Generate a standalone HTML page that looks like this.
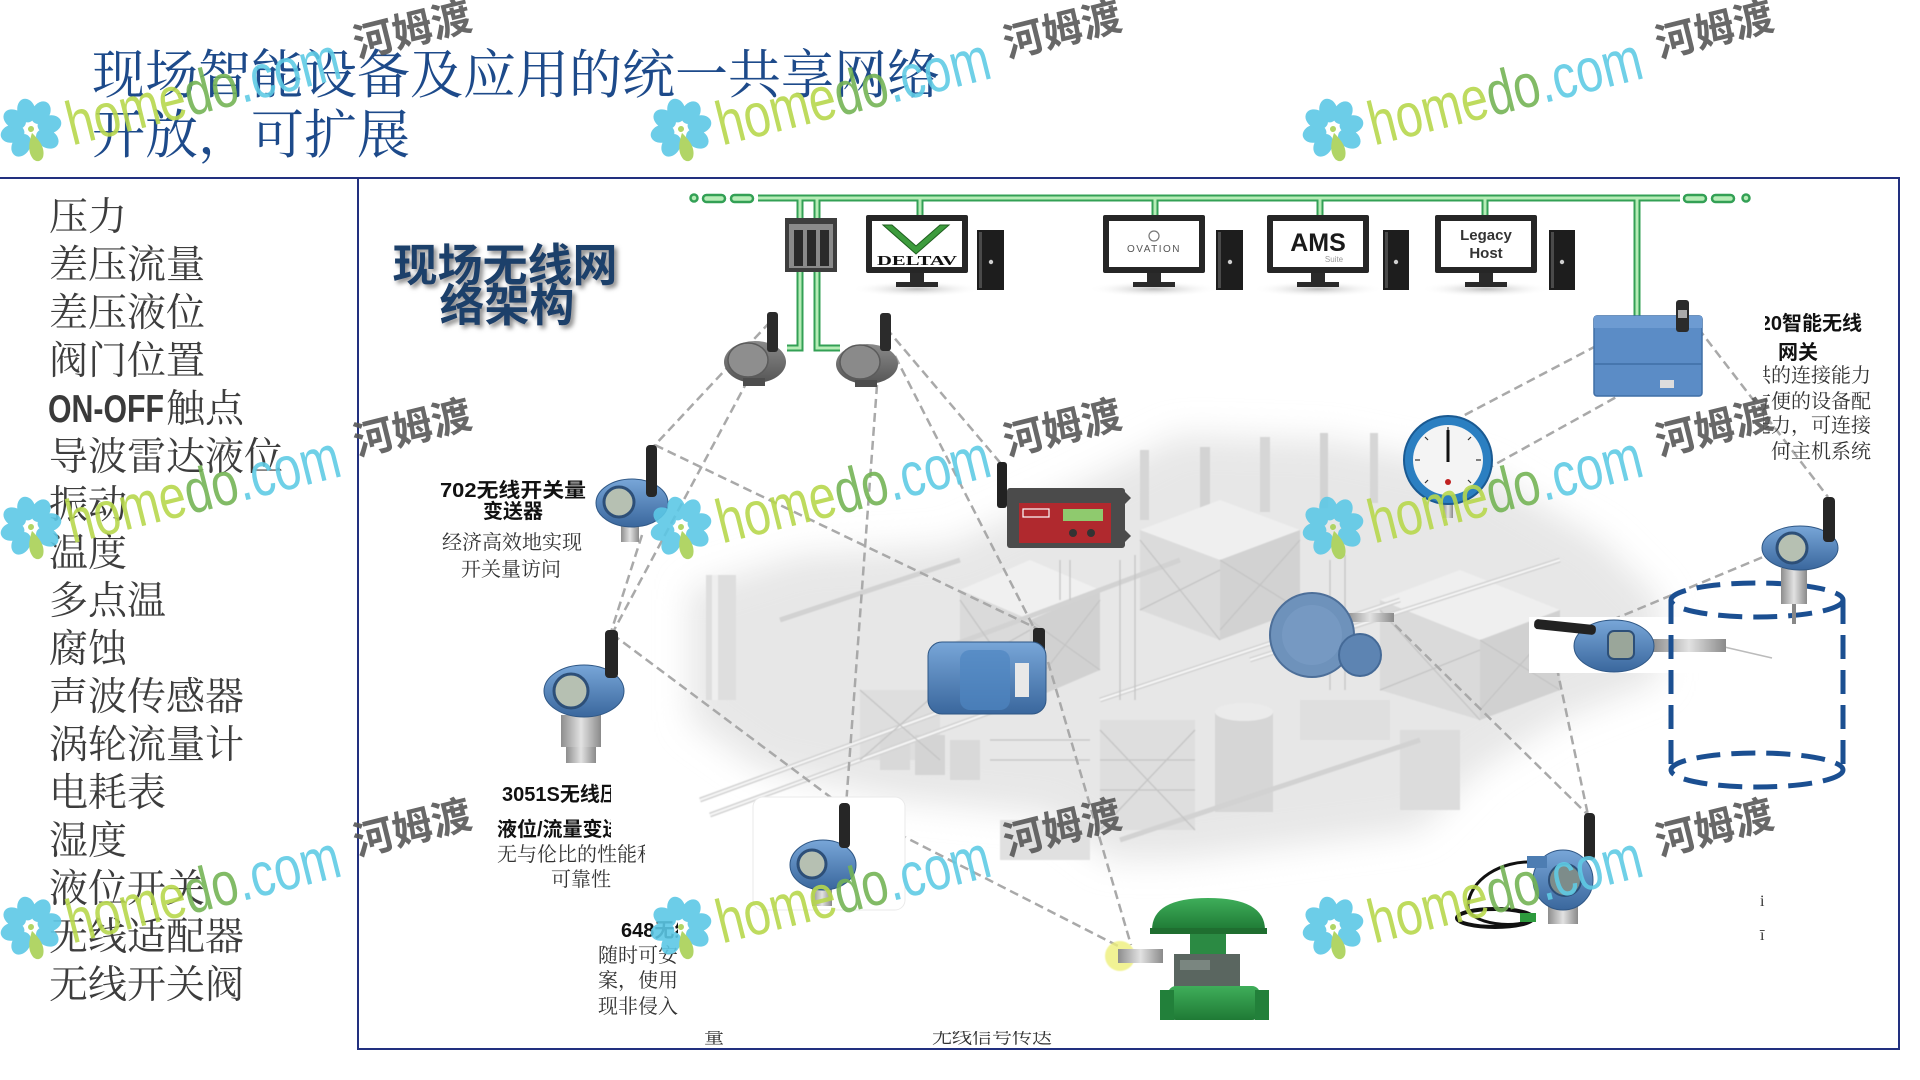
<!DOCTYPE html>
<html><head><meta charset="utf-8">
<style>
html,body{margin:0;padding:0;background:#fff;width:1920px;height:1080px;overflow:hidden}
svg{display:block}
</style></head>
<body>
<svg width="1920" height="1080" viewBox="0 0 1920 1080" xmlns="http://www.w3.org/2000/svg">
<defs>
  <filter id="bl12" x="-20%" y="-20%" width="140%" height="140%"><feGaussianBlur stdDeviation="16"/></filter>
  <filter id="bl1"><feGaussianBlur stdDeviation="0.6"/></filter>
  <filter id="tsh" x="-10%" y="-10%" width="130%" height="140%">
    <feDropShadow dx="3" dy="3" stdDeviation="2.5" flood-color="#7a7a7a" flood-opacity="0.9"/>
  </filter>
  <linearGradient id="bg" x1="0" y1="0" x2="0" y2="1">
    <stop offset="0" stop-color="#78a6d8"/><stop offset="1" stop-color="#3a679d"/>
  </linearGradient>
  <linearGradient id="gg" x1="0" y1="0" x2="0" y2="1">
    <stop offset="0" stop-color="#8a8a8a"/><stop offset="1" stop-color="#555"/>
  </linearGradient>
  <linearGradient id="sv" x1="0" y1="0" x2="1" y2="0">
    <stop offset="0" stop-color="#8d8d8d"/><stop offset="0.5" stop-color="#e2e2e2"/><stop offset="1" stop-color="#8a8a8a"/>
  </linearGradient>
  <linearGradient id="grn" x1="0" y1="0" x2="0" y2="1">
    <stop offset="0" stop-color="#3fae5a"/><stop offset="1" stop-color="#1f7a35"/>
  </linearGradient>
  <radialGradient id="shd" cx="0.5" cy="0.5" r="0.5">
    <stop offset="0" stop-color="#bdbdbd"/><stop offset="1" stop-color="#ffffff" stop-opacity="0"/>
  </radialGradient>
  <g id="fl">
    <ellipse cx="0" cy="-19" rx="9" ry="12" fill="#5cc8e6"/>
    <ellipse cx="0" cy="-19" rx="9" ry="12" fill="#5cc8e6" transform="rotate(45)"/>
    <ellipse cx="0" cy="-19" rx="9" ry="12" fill="#5cc8e6" transform="rotate(90)"/>
    <ellipse cx="0" cy="-19" rx="9" ry="12" fill="#5cc8e6" transform="rotate(135)"/>
    <ellipse cx="0" cy="-19" rx="9" ry="12" fill="#5cc8e6" transform="rotate(225)"/>
    <ellipse cx="0" cy="-19" rx="9" ry="12" fill="#5cc8e6" transform="rotate(270)"/>
    <ellipse cx="0" cy="-19" rx="9" ry="12" fill="#5cc8e6" transform="rotate(315)"/>
    <path d="M0,4 C6,14 9,22 5,30 C2,34 -2,34 -5,30 C-9,22 -6,14 0,4 Z" fill="#a9d155"/>
    <circle cx="0" cy="0" r="3" fill="#a9d155"/>
  </g>
  <clipPath id="c3051a"><rect x="480" y="770" width="131" height="72"/></clipPath>
  <clipPath id="c3051b"><rect x="480" y="842" width="165" height="25"/></clipPath>
  <clipPath id="c648"><rect x="585" y="912" width="93" height="110"/></clipPath>
  <clipPath id="cgw"><rect x="1765" y="295" width="140" height="45"/></clipPath>
  <clipPath id="cgw2"><rect x="1763" y="360" width="140" height="110"/></clipPath>
  <clipPath id="cbot"><rect x="680" y="1031" width="420" height="16"/></clipPath>
</defs>

<!-- ============ Title ============ -->
<g font-family="'Liberation Serif','Noto Serif CJK SC',serif" fill="#1d4a8a">
  <text x="92" y="93" font-size="53">现场智能设备及应用的统一共享网络</text>
  <text x="92" y="153" font-size="53">开放，可扩展</text>
</g>

<!-- ============ Frame lines ============ -->
<g stroke="#22307f" stroke-width="2" fill="none">
  <line x1="0" y1="178" x2="1900" y2="178"/>
  <line x1="358" y1="178" x2="358" y2="1050"/>
  <line x1="357" y1="1049" x2="1900" y2="1049"/>
  <line x1="1899" y1="177" x2="1899" y2="1050"/>
</g>

<!-- ============ Left list ============ -->
<g font-family="'Liberation Serif','Noto Serif CJK SC',serif" font-size="39" fill="#3d3d3d">
  <text x="49" y="230">压力</text>
  <text x="49" y="278">差压流量</text>
  <text x="49" y="326">差压液位</text>
  <text x="49" y="374">阀门位置</text>
  <text x="166" y="422">触点</text>
  <text x="49" y="470">导波雷达液位</text>
  <text x="49" y="518">振动</text>
  <text x="49" y="566">温度</text>
  <text x="49" y="614">多点温</text>
  <text x="49" y="662">腐蚀</text>
  <text x="49" y="710">声波传感器</text>
  <text x="49" y="758">涡轮流量计</text>
  <text x="49" y="806">电耗表</text>
  <text x="49" y="854">湿度</text>
  <text x="49" y="902">液位开关</text>
  <text x="49" y="950">无线适配器</text>
  <text x="49" y="998">无线开关阀</text>
</g>
<text x="48" y="422" font-family="'Liberation Sans',sans-serif" font-weight="bold" font-size="39" fill="#3a3a3a" textLength="116" lengthAdjust="spacingAndGlyphs">ON-OFF</text>

<!-- ============ Factory background ============ -->
<g>
  <path d="M690,590 L800,555 L950,545 L1080,485 L1180,435 L1330,440 L1480,470 L1600,540 L1660,600 L1660,680 L1560,720 L1480,770 L1420,830 L1300,845 L1180,860 L1110,860 L1050,815 L900,800 L760,770 L690,720 Z" fill="#e7e7e7" filter="url(#bl12)"/>
  <g filter="url(#bl1)">
    <!-- chimneys -->
    <rect x="1140" y="450" width="9" height="70" fill="#d6d6d6"/>
    <rect x="1200" y="447" width="10" height="70" fill="#d3d3d3"/>
    <rect x="1260" y="437" width="10" height="75" fill="#d6d6d6"/>
    <rect x="1320" y="433" width="8" height="75" fill="#d3d3d3"/>
    <rect x="1370" y="433" width="8" height="70" fill="#d6d6d6"/>
    <rect x="706" y="575" width="30" height="125" fill="#dedede"/>
    <rect x="712" y="575" width="6" height="125" fill="#efefef"/>
    <!-- blocks -->
    <polygon points="960,590 1030,560 1100,590 1030,620" fill="#f0f0f0"/>
    <polygon points="960,590 1030,620 1030,700 960,670" fill="#dadada"/>
    <polygon points="1030,620 1100,590 1100,670 1030,700" fill="#d1d1d1"/>
    <polygon points="1140,530 1220,500 1300,530 1220,560" fill="#efefef"/>
    <polygon points="1140,530 1220,560 1220,640 1140,610" fill="#dbdbdb"/>
    <polygon points="1220,560 1300,530 1300,610 1220,640" fill="#d2d2d2"/>
    <polygon points="1380,600 1460,570 1560,610 1480,640" fill="#efefef"/>
    <polygon points="1380,600 1480,640 1480,720 1380,690" fill="#dadada"/>
    <polygon points="1480,640 1560,610 1560,690 1480,720" fill="#d1d1d1"/>
    <rect x="1100" y="720" width="95" height="110" fill="#dedede"/>
    <rect x="1215" y="712" width="58" height="100" fill="#d6d6d6"/>
    <ellipse cx="1244" cy="712" rx="29" ry="9" fill="#ebebeb"/>
    <rect x="860" y="690" width="80" height="70" fill="#dedede"/>
    <rect x="1000" y="820" width="90" height="40" fill="#e0e0e0"/>
    <rect x="1400" y="730" width="60" height="80" fill="#dcdcdc"/>
    <rect x="1300" y="700" width="90" height="40" fill="#dfdfdf"/>
    <!-- tanks -->
    <rect x="880" y="730" width="30" height="40" fill="#d9d9d9"/>
    <rect x="915" y="735" width="30" height="40" fill="#d4d4d4"/>
    <rect x="950" y="740" width="30" height="40" fill="#d9d9d9"/>
    <!-- pipes -->
    <g stroke="#d2d2d2" stroke-width="5" fill="none">
      <line x1="700" y1="800" x2="1000" y2="690"/>
      <line x1="710" y1="815" x2="1010" y2="705"/>
      <line x1="940" y1="650" x2="1180" y2="560"/>
      <line x1="1100" y1="700" x2="1400" y2="600"/>
      <line x1="1120" y1="840" x2="1420" y2="740"/>
      <line x1="780" y1="620" x2="960" y2="560"/>
      <line x1="1250" y1="660" x2="1560" y2="560"/>
    </g>
    <g stroke="#f6f6f6" stroke-width="2" fill="none">
      <line x1="700" y1="800" x2="1000" y2="690"/>
      <line x1="710" y1="815" x2="1010" y2="705"/>
      <line x1="1100" y1="700" x2="1400" y2="600"/>
      <line x1="1250" y1="660" x2="1560" y2="560"/>
    </g>
    <!-- lattices -->
    <g stroke="#c4c4c4" stroke-width="1.3" fill="none">
      <path d="M1100,730 L1195,830 M1195,730 L1100,830 M1100,760 L1195,760 M1100,790 L1195,790"/>
      <path d="M960,600 L1030,700 M1030,630 L960,670 M1030,620 L1100,670 M1100,600 L1030,690"/>
      <path d="M1380,610 L1480,720 M1480,650 L1380,690 M1480,640 L1560,690 M1560,620 L1480,710"/>
      <path d="M1140,540 L1220,640 M1220,570 L1140,610 M1220,560 L1300,610 M1300,540 L1220,630"/>
      <path d="M860,690 L940,760 M940,690 L860,760"/>
      <path d="M1120,560 L1120,700 M1135,555 L1135,700 M1330,560 L1330,690 M1345,555 L1345,690"/>
      <path d="M1060,560 L1060,600 M1070,560 L1070,600 M990,740 L1090,740 M990,760 L1090,760"/>
    </g>
  </g>
</g>

<!-- ============ Green network bus ============ -->
<g fill="none" stroke-linecap="butt">
  <g stroke="#33a055" stroke-width="7">
    <line x1="758" y1="198" x2="1680" y2="198"/>
    <polyline points="800,198 800,348 787,348"/>
    <polyline points="817,198 817,348 840,348"/>
    <line x1="920" y1="198" x2="920" y2="216"/>
    <line x1="1155" y1="198" x2="1155" y2="216"/>
    <line x1="1320" y1="198" x2="1320" y2="216"/>
    <line x1="1485" y1="198" x2="1485" y2="216"/>
    <line x1="1637" y1="198" x2="1637" y2="316"/>
  </g>
  <g stroke="#b6ecb6" stroke-width="3">
    <line x1="758" y1="198" x2="1680" y2="198"/>
    <polyline points="800,198 800,348 787,348"/>
    <polyline points="817,198 817,348 840,348"/>
    <line x1="920" y1="198" x2="920" y2="216"/>
    <line x1="1155" y1="198" x2="1155" y2="216"/>
    <line x1="1320" y1="198" x2="1320" y2="216"/>
    <line x1="1485" y1="198" x2="1485" y2="216"/>
    <line x1="1637" y1="198" x2="1637" y2="316"/>
  </g>
  <g stroke="#33a055" stroke-width="2.5" fill="#b6ecb6">
    <circle cx="694" cy="198" r="3.5"/>
    <rect x="703" y="195" width="22" height="7" rx="3.5"/>
    <rect x="731" y="195" width="22" height="7" rx="3.5"/>
    <rect x="1684" y="195" width="22" height="7" rx="3.5"/>
    <rect x="1712" y="195" width="22" height="7" rx="3.5"/>
    <circle cx="1746" cy="198" r="3.5"/>
  </g>
</g>

<!-- ============ Monitors ============ -->
<g>
  <ellipse cx="917" cy="289" rx="66" ry="8" fill="url(#shd)"/>
  <ellipse cx="1154" cy="289" rx="66" ry="8" fill="url(#shd)"/>
  <ellipse cx="1318" cy="289" rx="66" ry="8" fill="url(#shd)"/>
  <ellipse cx="1486" cy="289" rx="66" ry="8" fill="url(#shd)"/>
  <!-- DeltaV -->
  <rect x="866" y="215" width="102" height="58" rx="2" fill="#262626"/>
  <rect x="872" y="221" width="90" height="46" fill="#fff"/>
  <rect x="910" y="273" width="14" height="10" fill="#2a2a2a"/>
  <rect x="896" y="282" width="42" height="5" fill="#2a2a2a"/>
  <polygon points="883,225 892,225 916,246 940,225 949,225 916,254" fill="#3d9c3d" stroke="#1e5e1e" stroke-width="1"/>
  <text x="877" y="265" font-family="'Liberation Serif',serif" font-weight="bold" font-size="14" fill="#111" textLength="80" lengthAdjust="spacingAndGlyphs">DELTAV</text>
  <rect x="977" y="230" width="27" height="60" fill="#1d1d1d"/>
  <rect x="979" y="232" width="3" height="56" fill="#4a4a4a"/>
  <circle cx="991" cy="262" r="2.2" fill="#cfcfcf"/>
  <!-- Ovation -->
  <rect x="1103" y="215" width="102" height="58" rx="2" fill="#262626"/>
  <rect x="1109" y="221" width="90" height="46" fill="#fff"/>
  <rect x="1147" y="273" width="14" height="10" fill="#2a2a2a"/>
  <rect x="1133" y="282" width="42" height="5" fill="#2a2a2a"/>
  <circle cx="1154" cy="236" r="5" fill="none" stroke="#777" stroke-width="1.2"/>
  <text x="1154" y="252" text-anchor="middle" font-family="'Liberation Sans',sans-serif" font-size="10" letter-spacing="1.5" fill="#555">OVATION</text>
  <rect x="1216" y="230" width="27" height="60" fill="#1d1d1d"/>
  <rect x="1218" y="232" width="3" height="56" fill="#4a4a4a"/>
  <circle cx="1230" cy="262" r="2.2" fill="#cfcfcf"/>
  <!-- AMS -->
  <rect x="1267" y="215" width="102" height="58" rx="2" fill="#262626"/>
  <rect x="1273" y="221" width="90" height="46" fill="#fff"/>
  <rect x="1311" y="273" width="14" height="10" fill="#2a2a2a"/>
  <rect x="1297" y="282" width="42" height="5" fill="#2a2a2a"/>
  <text x="1318" y="251" text-anchor="middle" font-family="'Liberation Sans',sans-serif" font-weight="bold" font-size="25" fill="#1a1a1a">AMS</text>
  <text x="1334" y="262" text-anchor="middle" font-family="'Liberation Sans',sans-serif" font-size="8" fill="#999">Suite</text>
  <rect x="1383" y="230" width="26" height="60" fill="#1d1d1d"/>
  <rect x="1385" y="232" width="3" height="56" fill="#4a4a4a"/>
  <circle cx="1396" cy="262" r="2.2" fill="#cfcfcf"/>
  <!-- Legacy -->
  <rect x="1435" y="215" width="102" height="58" rx="2" fill="#262626"/>
  <rect x="1441" y="221" width="90" height="46" fill="#fff"/>
  <rect x="1479" y="273" width="14" height="10" fill="#2a2a2a"/>
  <rect x="1465" y="282" width="42" height="5" fill="#2a2a2a"/>
  <text x="1486" y="240" text-anchor="middle" font-family="'Liberation Sans',sans-serif" font-weight="bold" font-size="15" fill="#333">Legacy</text>
  <text x="1486" y="258" text-anchor="middle" font-family="'Liberation Sans',sans-serif" font-weight="bold" font-size="15" fill="#333">Host</text>
  <rect x="1549" y="230" width="26" height="60" fill="#1d1d1d"/>
  <rect x="1551" y="232" width="3" height="56" fill="#4a4a4a"/>
  <circle cx="1562" cy="262" r="2.2" fill="#cfcfcf"/>
  <!-- switch -->
  <rect x="785" y="218" width="52" height="54" fill="#3d3d3d"/>
  <rect x="789" y="224" width="44" height="44" fill="#8a8a8a"/>
  <rect x="794" y="230" width="9" height="36" fill="#2a2a2a"/>
  <rect x="807" y="230" width="9" height="36" fill="#2a2a2a"/>
  <rect x="820" y="230" width="9" height="36" fill="#2a2a2a"/>
</g>

<!-- ============ Diagram title ============ -->
<g font-family="'Liberation Sans','Noto Sans CJK SC',sans-serif" font-weight="bold" font-size="45" fill="#1f3f6a" text-anchor="middle" filter="url(#tsh)">
  <text x="505" y="281">现场无线网</text>
  <text x="507" y="321">络架构</text>
</g>

<!-- ============ Dashed links ============ -->
<g stroke="#a9a9a9" stroke-width="2.5" stroke-dasharray="9 5" fill="none">
  <line x1="770" y1="322" x2="654" y2="446"/>
  <line x1="748" y1="380" x2="613" y2="632"/>
  <line x1="642" y1="535" x2="611" y2="632"/>
  <line x1="655" y1="445" x2="1040" y2="630"/>
  <line x1="877" y1="385" x2="846" y2="806"/>
  <line x1="886" y1="328" x2="1003" y2="466"/>
  <line x1="895" y1="356" x2="1035" y2="630"/>
  <line x1="612" y1="634" x2="845" y2="808"/>
  <line x1="848" y1="808" x2="1122" y2="948"/>
  <line x1="1048" y1="662" x2="1131" y2="945"/>
  <line x1="1440" y1="428" x2="1598" y2="345"/>
  <line x1="1485" y1="470" x2="1620" y2="395"/>
  <line x1="1681" y1="306" x2="1828" y2="497"/>
  <line x1="1775" y1="552" x2="1600" y2="625"/>
  <line x1="1548" y1="626" x2="1588" y2="815"/>
  <line x1="1395" y1="625" x2="1588" y2="815"/>
</g>

<!-- ============ Devices ============ -->
<g>
  <ellipse cx="755" cy="362" rx="31" ry="21" fill="url(#gg)"/>
  <ellipse cx="748" cy="360" rx="20" ry="17" fill="#8e8e8e" stroke="#5b5b5b" stroke-width="1.5"/>
  <rect x="743" y="378" width="22" height="8" fill="#4d4d4d"/>
  <rect x="767" y="312" width="11" height="40" rx="3" fill="#2b2b2b"/>
  <ellipse cx="867" cy="364" rx="31" ry="20" fill="url(#gg)"/>
  <ellipse cx="860" cy="362" rx="20" ry="17" fill="#8a8a8a" stroke="#5b5b5b" stroke-width="1.5"/>
  <rect x="855" y="380" width="22" height="7" fill="#4d4d4d"/>
  <rect x="880" y="313" width="11" height="38" rx="3" fill="#2b2b2b"/>
</g>

<g>
  <rect x="1594" y="316" width="108" height="80" rx="3" fill="#5b8cc6" stroke="#3f6ea6" stroke-width="1.5"/>
  <rect x="1594" y="316" width="108" height="12" fill="#6d9bd2"/>
  <line x1="1594" y1="364" x2="1702" y2="364" stroke="#3f6ea6" stroke-width="1.5"/>
  <rect x="1660" y="380" width="14" height="8" fill="#ddd"/>
  <rect x="1676" y="300" width="13" height="32" rx="3" fill="#2b2b2b"/>
  <rect x="1678" y="310" width="9" height="8" fill="#aaa"/>
</g>

<g>
  <rect x="1443" y="500" width="10" height="18" fill="url(#sv)"/>
  <circle cx="1448" cy="460" r="44" fill="#2b7fc1" stroke="#1a5a92" stroke-width="2"/>
  <circle cx="1448" cy="460" r="35" fill="#f4f4f4"/>
  <g stroke="#333" stroke-width="1.2">
    <line x1="1448" y1="427" x2="1448" y2="432"/><line x1="1481" y1="460" x2="1476" y2="460"/>
    <line x1="1415" y1="460" x2="1420" y2="460"/><line x1="1471" y1="437" x2="1468" y2="440"/>
    <line x1="1425" y1="437" x2="1428" y2="440"/><line x1="1471" y1="483" x2="1468" y2="480"/>
    <line x1="1425" y1="483" x2="1428" y2="480"/>
  </g>
  <line x1="1448" y1="462" x2="1448" y2="430" stroke="#111" stroke-width="3"/>
  <circle cx="1448" cy="482" r="3" fill="#c02020"/>
</g>

<g>
  <rect x="997" y="462" width="10" height="46" rx="3" fill="#222"/>
  <rect x="1007" y="488" width="118" height="60" rx="3" fill="#4b4b4b"/>
  <rect x="1019" y="503" width="92" height="40" fill="#b0292e"/>
  <rect x="1063" y="509" width="40" height="12" fill="#8fca6e"/>
  <rect x="1023" y="509" width="26" height="8" fill="none" stroke="#fff" stroke-width="1.2"/>
  <circle cx="1073" cy="533" r="4" fill="#333"/>
  <circle cx="1091" cy="533" r="4" fill="#333"/>
  <polygon points="1125,492 1131,498 1125,504" fill="#4b4b4b"/>
  <polygon points="1125,530 1131,536 1125,542" fill="#4b4b4b"/>
</g>

<g>
  <rect x="621" y="524" width="18" height="18" fill="url(#sv)"/>
  <ellipse cx="632" cy="503" rx="36" ry="24" fill="url(#bg)" stroke="#2f5785"/>
  <circle cx="619" cy="502" r="15" fill="#b6c0b2" stroke="#2d4f78" stroke-width="3"/>
  <rect x="646" y="445" width="11" height="52" rx="4" fill="#262626"/>
</g>

<g>
  <rect x="561" y="715" width="40" height="32" fill="url(#sv)"/>
  <rect x="566" y="747" width="30" height="16" fill="url(#sv)"/>
  <ellipse cx="584" cy="691" rx="40" ry="26" fill="url(#bg)" stroke="#2f5785"/>
  <circle cx="571" cy="691" r="17" fill="#b6c0b2" stroke="#2d4f78" stroke-width="3"/>
  <rect x="605" y="630" width="13" height="48" rx="4" fill="#262626"/>
</g>

<g>
  <rect x="1033" y="628" width="12" height="32" rx="3" fill="#262626"/>
  <rect x="928" y="642" width="118" height="72" rx="14" fill="url(#bg)" stroke="#2f5785"/>
  <rect x="960" y="650" width="50" height="60" rx="10" fill="#4e86c2" opacity="0.7"/>
  <rect x="1015" y="663" width="14" height="34" fill="#e8e8e8"/>
</g>

<g>
  <rect x="1346" y="613" width="48" height="9" fill="url(#sv)"/>
  <circle cx="1312" cy="635" r="42" fill="#6e92bb" stroke="#4d6f99" stroke-width="2"/>
  <circle cx="1312" cy="635" r="30" fill="#7c9fc6" opacity="0.6"/>
  <circle cx="1360" cy="655" r="21" fill="#5d84b2" stroke="#456a97" stroke-width="2"/>
</g>

<g>
  <rect x="1529" y="617" width="199" height="56" fill="#fff"/>
  <line x1="1720" y1="646" x2="1772" y2="658" stroke="#bbb" stroke-width="1.5"/>
  <rect x="1652" y="639" width="74" height="13" fill="url(#sv)"/>
  <ellipse cx="1614" cy="646" rx="40" ry="26" fill="url(#bg)" stroke="#2f5785"/>
  <rect x="1608" y="631" width="26" height="28" rx="6" fill="#9aa69a" stroke="#2d4f78" stroke-width="2"/>
  <rect x="1534" y="622" width="62" height="10" rx="4" fill="#222" transform="rotate(6 1565 627)"/>
</g>

<g fill="none" stroke="#1b4f91" stroke-width="5" stroke-dasharray="24 11">
  <ellipse cx="1757" cy="600" rx="86" ry="17"/>
  <ellipse cx="1757" cy="770" rx="86" ry="17"/>
  <line x1="1671" y1="600" x2="1671" y2="770"/>
  <line x1="1843" y1="600" x2="1843" y2="770"/>
</g>

<g>
  <rect x="1781" y="568" width="26" height="36" fill="url(#sv)"/>
  <rect x="1792" y="604" width="4" height="20" fill="#888"/>
  <ellipse cx="1800" cy="548" rx="38" ry="22" fill="url(#bg)" stroke="#2f5785"/>
  <circle cx="1792" cy="548" r="15" fill="#b6c0b2" stroke="#2d4f78" stroke-width="3"/>
  <rect x="1823" y="497" width="12" height="45" rx="4" fill="#262626"/>
</g>

<g>
  <rect x="753" y="797" width="152" height="113" rx="10" fill="#fff" stroke="#eaeaea" stroke-width="1"/>
  <rect x="812" y="888" width="20" height="18" fill="url(#sv)"/>
  <ellipse cx="823" cy="865" rx="33" ry="25" fill="url(#bg)" stroke="#2f5785"/>
  <circle cx="812" cy="864" r="14" fill="#b6c0b2" stroke="#2d4f78" stroke-width="3"/>
  <rect x="839" y="803" width="11" height="45" rx="4" fill="#262626"/>
</g>

<g>
  <circle cx="1120" cy="956" r="15" fill="#eef07a" opacity="0.8" filter="url(#bl1)"/>
  <rect x="1118" y="949" width="45" height="14" fill="url(#sv)"/>
  <path d="M1152,930 Q1152,898 1208,898 Q1265,898 1265,930 Z" fill="url(#grn)"/>
  <rect x="1150" y="928" width="117" height="6" fill="#1f6e30"/>
  <rect x="1190" y="934" width="36" height="22" fill="#2b8a43"/>
  <rect x="1174" y="954" width="66" height="34" fill="#5a6660"/>
  <rect x="1180" y="960" width="30" height="10" fill="#7a8680"/>
  <rect x="1168" y="986" width="92" height="34" rx="8" fill="url(#grn)"/>
  <rect x="1160" y="990" width="14" height="30" fill="#22803a"/>
  <rect x="1255" y="990" width="14" height="30" fill="#22803a"/>
</g>

<g>
  <path d="M1535,862 C1500,860 1470,880 1468,905 C1466,925 1520,930 1535,918" fill="none" stroke="#111" stroke-width="3"/>
  <ellipse cx="1495" cy="918" rx="38" ry="9" fill="none" stroke="#111" stroke-width="4"/>
  <rect x="1520" y="913" width="16" height="9" fill="#2d9a3d"/>
  <rect x="1548" y="906" width="30" height="18" fill="url(#sv)"/>
  <circle cx="1563" cy="880" r="30" fill="url(#bg)" stroke="#2f5785"/>
  <rect x="1527" y="856" width="20" height="12" fill="#4d7db2"/>
  <circle cx="1565" cy="880" r="16" fill="#7d8c8a" stroke="#2d4f78" stroke-width="2"/>
  <rect x="1584" y="813" width="11" height="47" rx="4" fill="#262626"/>
</g>

<!-- ============ Labels ============ -->
<g font-family="'Liberation Sans','Noto Sans CJK SC',sans-serif" font-weight="bold" fill="#111">
  <text x="440" y="497" font-size="20" textLength="146" lengthAdjust="spacingAndGlyphs">702无线开关量</text>
  <text x="513" y="518" font-size="20" text-anchor="middle">变送器</text>
</g>
<g font-family="'Liberation Serif','Noto Serif CJK SC',serif" font-size="20" fill="#333">
  <text x="512" y="549" text-anchor="middle">经济高效地实现</text>
  <text x="511" y="576" text-anchor="middle">开关量访问</text>
</g>

<g clip-path="url(#c3051a)" font-family="'Liberation Sans','Noto Sans CJK SC',sans-serif" font-weight="bold" fill="#111" font-size="20">
  <text x="502" y="801">3051S无线压力</text>
  <text x="497" y="836">液位/流量变送器</text>
</g>
<g clip-path="url(#c3051b)" font-family="'Liberation Serif','Noto Serif CJK SC',serif" font-size="20" fill="#333">
  <text x="497" y="861">无与伦比的性能和</text>
</g>
<text x="551" y="886" font-family="'Liberation Serif','Noto Serif CJK SC',serif" font-size="20" fill="#333">可靠性</text>

<g clip-path="url(#c648)">
  <text x="621" y="937" font-family="'Liberation Sans','Noto Sans CJK SC',sans-serif" font-weight="bold" font-size="20" fill="#111">648无线温度</text>
  <g font-family="'Liberation Serif','Noto Serif CJK SC',serif" font-size="20" fill="#333">
    <text x="598" y="962">随时可安装</text>
    <text x="598" y="987">案，使用简</text>
    <text x="598" y="1013">现非侵入式</text>
  </g>
</g>

<g clip-path="url(#cgw)">
  <text x="1862" y="330" text-anchor="end" font-family="'Liberation Sans','Noto Sans CJK SC',sans-serif" font-weight="bold" font-size="20" fill="#111">1420智能无线</text>
</g>
<g clip-path="url(#cgw2)">
  <g font-family="'Liberation Serif','Noto Serif CJK SC',serif" font-size="20" fill="#333" text-anchor="end">
    <text x="1871" y="382">供的连接能力</text>
    <text x="1871" y="408">方便的设备配</text>
    <text x="1871" y="432">能力，可连接</text>
    <text x="1871" y="458">何主机系统</text>
  </g>
</g>
<text x="1798" y="359" text-anchor="middle" font-family="'Liberation Sans','Noto Sans CJK SC',sans-serif" font-weight="bold" font-size="20" fill="#111">网关</text>
<g font-family="'Liberation Serif','Noto Serif CJK SC',serif" font-size="16" fill="#333">
  <text x="1760" y="906">i</text>
  <text x="1760" y="940">ī</text>
</g>

<g clip-path="url(#cbot)" font-family="'Liberation Serif','Noto Serif CJK SC',serif" font-size="20" fill="#333">
  <text x="704" y="1043">量</text>
  <text x="932" y="1043">无线信号传送</text>
</g>

<!-- ============ Watermarks ============ -->
<g opacity="0.9">
  <g transform="translate(31,129) rotate(-14)">
    <use href="#fl"/>
    <text x="36" y="26" font-family="'Liberation Sans',sans-serif" font-size="62" textLength="280" lengthAdjust="spacingAndGlyphs"><tspan fill="#b7d74c">home</tspan><tspan fill="#74b455">do</tspan><tspan fill="#5fcbe5">.com</tspan></text>
    <text x="334" y="10" font-family="'Liberation Sans','Noto Sans CJK SC',sans-serif" font-weight="bold" font-size="40" fill="#575757">河姆渡</text>
  </g>
  <g transform="translate(681,129) rotate(-14)">
    <use href="#fl"/>
    <text x="36" y="26" font-family="'Liberation Sans',sans-serif" font-size="62" textLength="280" lengthAdjust="spacingAndGlyphs"><tspan fill="#b7d74c">home</tspan><tspan fill="#74b455">do</tspan><tspan fill="#5fcbe5">.com</tspan></text>
    <text x="334" y="10" font-family="'Liberation Sans','Noto Sans CJK SC',sans-serif" font-weight="bold" font-size="40" fill="#575757">河姆渡</text>
  </g>
  <g transform="translate(1333,129) rotate(-14)">
    <use href="#fl"/>
    <text x="36" y="26" font-family="'Liberation Sans',sans-serif" font-size="62" textLength="280" lengthAdjust="spacingAndGlyphs"><tspan fill="#b7d74c">home</tspan><tspan fill="#74b455">do</tspan><tspan fill="#5fcbe5">.com</tspan></text>
    <text x="334" y="10" font-family="'Liberation Sans','Noto Sans CJK SC',sans-serif" font-weight="bold" font-size="40" fill="#575757">河姆渡</text>
  </g>
  <g transform="translate(31,527) rotate(-14)">
    <use href="#fl"/>
    <text x="36" y="26" font-family="'Liberation Sans',sans-serif" font-size="62" textLength="280" lengthAdjust="spacingAndGlyphs"><tspan fill="#b7d74c">home</tspan><tspan fill="#74b455">do</tspan><tspan fill="#5fcbe5">.com</tspan></text>
    <text x="334" y="10" font-family="'Liberation Sans','Noto Sans CJK SC',sans-serif" font-weight="bold" font-size="40" fill="#575757">河姆渡</text>
  </g>
  <g transform="translate(681,527) rotate(-14)">
    <use href="#fl"/>
    <text x="36" y="26" font-family="'Liberation Sans',sans-serif" font-size="62" textLength="280" lengthAdjust="spacingAndGlyphs"><tspan fill="#b7d74c">home</tspan><tspan fill="#74b455">do</tspan><tspan fill="#5fcbe5">.com</tspan></text>
    <text x="334" y="10" font-family="'Liberation Sans','Noto Sans CJK SC',sans-serif" font-weight="bold" font-size="40" fill="#575757">河姆渡</text>
  </g>
  <g transform="translate(1333,527) rotate(-14)">
    <use href="#fl"/>
    <text x="36" y="26" font-family="'Liberation Sans',sans-serif" font-size="62" textLength="280" lengthAdjust="spacingAndGlyphs"><tspan fill="#b7d74c">home</tspan><tspan fill="#74b455">do</tspan><tspan fill="#5fcbe5">.com</tspan></text>
    <text x="334" y="10" font-family="'Liberation Sans','Noto Sans CJK SC',sans-serif" font-weight="bold" font-size="40" fill="#575757">河姆渡</text>
  </g>
  <g transform="translate(31,927) rotate(-14)">
    <use href="#fl"/>
    <text x="36" y="26" font-family="'Liberation Sans',sans-serif" font-size="62" textLength="280" lengthAdjust="spacingAndGlyphs"><tspan fill="#b7d74c">home</tspan><tspan fill="#74b455">do</tspan><tspan fill="#5fcbe5">.com</tspan></text>
    <text x="334" y="10" font-family="'Liberation Sans','Noto Sans CJK SC',sans-serif" font-weight="bold" font-size="40" fill="#575757">河姆渡</text>
  </g>
  <g transform="translate(681,927) rotate(-14)">
    <use href="#fl"/>
    <text x="36" y="26" font-family="'Liberation Sans',sans-serif" font-size="62" textLength="280" lengthAdjust="spacingAndGlyphs"><tspan fill="#b7d74c">home</tspan><tspan fill="#74b455">do</tspan><tspan fill="#5fcbe5">.com</tspan></text>
    <text x="334" y="10" font-family="'Liberation Sans','Noto Sans CJK SC',sans-serif" font-weight="bold" font-size="40" fill="#575757">河姆渡</text>
  </g>
  <g transform="translate(1333,927) rotate(-14)">
    <use href="#fl"/>
    <text x="36" y="26" font-family="'Liberation Sans',sans-serif" font-size="62" textLength="280" lengthAdjust="spacingAndGlyphs"><tspan fill="#b7d74c">home</tspan><tspan fill="#74b455">do</tspan><tspan fill="#5fcbe5">.com</tspan></text>
    <text x="334" y="10" font-family="'Liberation Sans','Noto Sans CJK SC',sans-serif" font-weight="bold" font-size="40" fill="#575757">河姆渡</text>
  </g>
</g>
</svg>
</body></html>
